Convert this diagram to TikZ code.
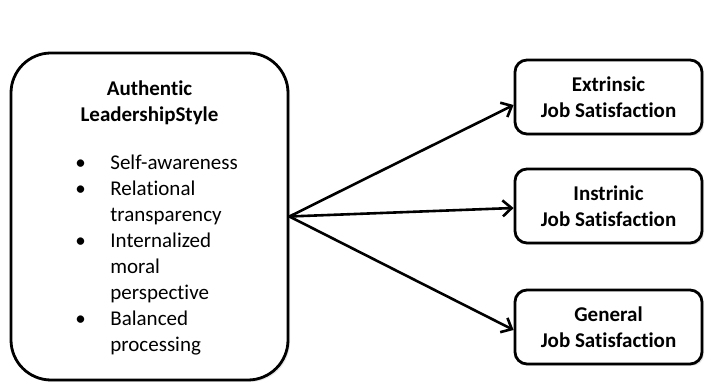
\documentclass[tikz,border=0pt]{standalone}
\usepackage{fontspec}
\setmainfont{Carlito}[Ligatures=NoCommon]
\usetikzlibrary{arrows.meta,shadows}
\newcommand\alsbullet{\makebox[17.5pt][l]{\textbullet}}
\newcommand\alsindent{\hspace*{17.5pt}}

\begin{document}
\begin{tikzpicture}[x=0.5pt,y=-0.5pt,
    box/.style={draw, line width=1.4pt, fill=white, drop shadow={opacity=0.2, shadow xshift=1pt, shadow yshift=-1pt}},
    bigbox/.style={box, rounded corners=20pt, minimum width=138.5pt, minimum height=163.5pt},
    jsbox/.style={box, rounded corners=6pt, minimum width=93.5pt, minimum height=37pt, align=center, font=\bfseries\fontsize{10.5}{13}\selectfont},
    link/.style={line width=1.3pt, -{Straight Barb[length=4.5pt,width=8pt]}}]
    \useasboundingbox (0,0) rectangle (708,383);
    \node[bigbox] (als) at (149.5,216.5) {};
    \node[font=\bfseries\fontsize{10.5}{13}\selectfont, align=center, inner sep=0pt] (alstitle) at (149.5,102.5) {Authentic\\LeadershipStyle};
    \node[anchor=west, inner sep=0pt, align=left, font=\fontsize{10.5}{13}\selectfont] (alslist) at (75,255) {\alsbullet Self-awareness\\
      \alsbullet Relational\\ \alsindent transparency\\
      \alsbullet Internalized\\ \alsindent moral\\ \alsindent perspective\\
      \alsbullet Balanced\\ \alsindent processing};
    \node[jsbox] (ext) at (608.5,97) {Extrinsic\\Job Satisfaction};
    \node[jsbox] (int) at (608.5,206) {Instrinic\\Job Satisfaction};
    \node[jsbox] (gen) at (608.5,327) {General\\Job Satisfaction};
    \draw[link] (als.east) -- ([yshift=-4pt]ext.west);
    \draw[link] (als.east) -- ([yshift=-1pt]int.west);
    \draw[link] (als.east) -- ([yshift=-1.5pt]gen.west);
\end{tikzpicture}
\end{document}
